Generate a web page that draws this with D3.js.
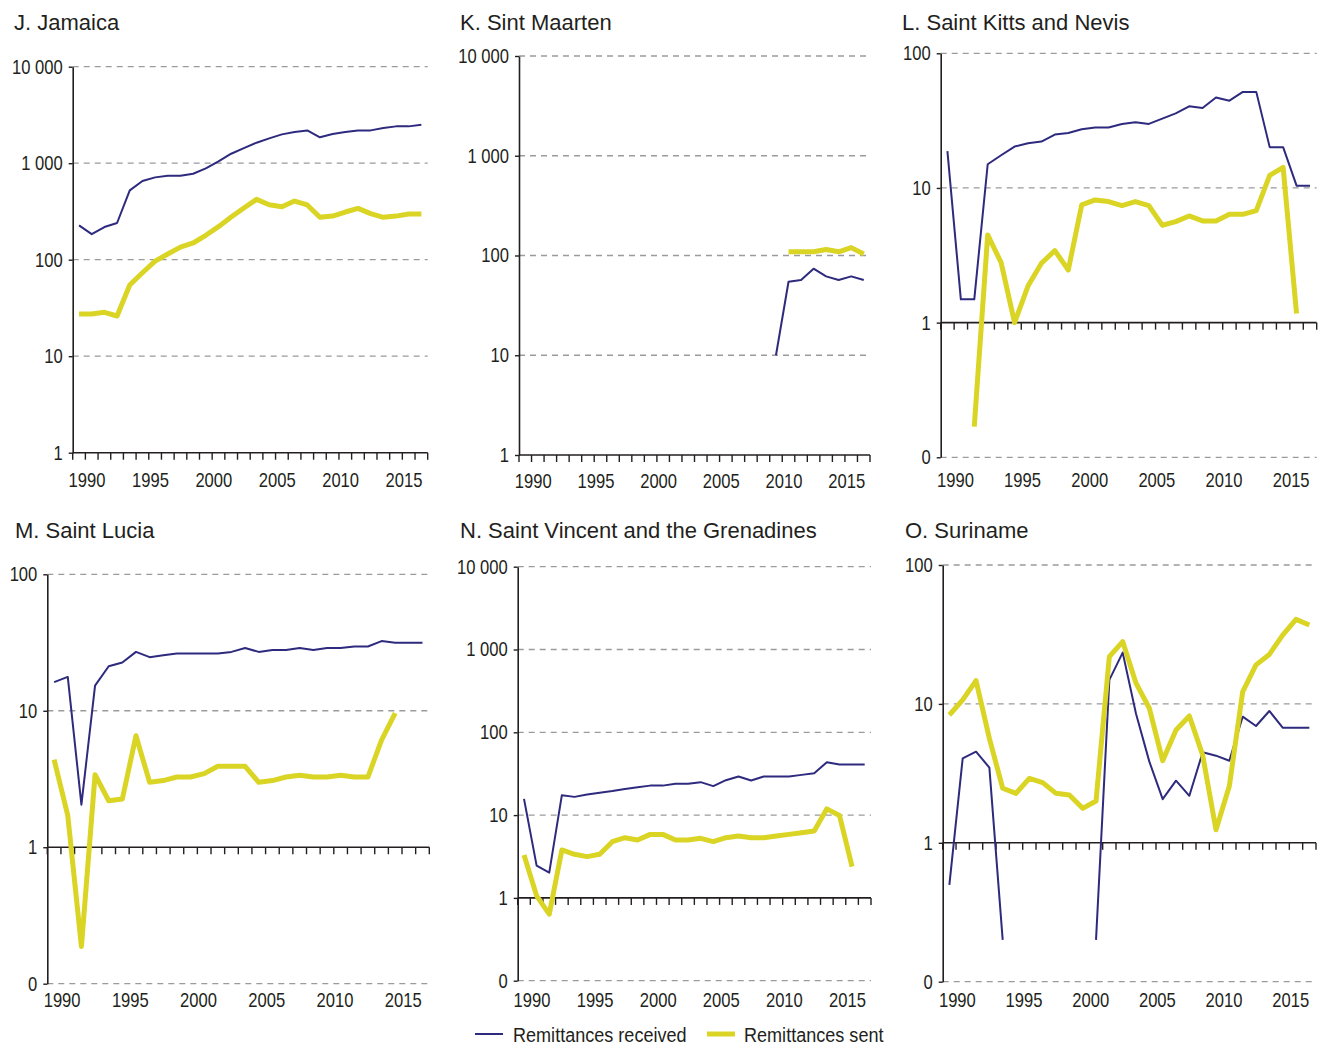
<!DOCTYPE html>
<html>
<head>
<meta charset="utf-8">
<script src="https://cdn.jsdelivr.net/npm/d3@7"></script>
<style>
  html, body { margin: 0; padding: 0; background: #fff; }
  svg { display: block; }
  text { font-family: "Liberation Sans", Arial, sans-serif; fill: #231f20; }
</style>
</head>
<body>
<svg id="chart" width="1320" height="1048"></svg>
<script>
// ---------- DATA ----------
const years = [1990,1991,1992,1993,1994,1995,1996,1997,1998,1999,2000,2001,2002,2003,2004,2005,2006,2007,2008,2009,2010,2011,2012,2013,2014,2015,2016,2017];
const yearLabels = [1990,1995,2000,2005,2010,2015];
const panelTitles = ["J. Jamaica","K. Sint Maarten","L. Saint Kitts and Nevis","M. Saint Lucia","N. Saint Vincent and the Grenadines","O. Suriname"];
const seriesNames = ["Remittances received","Remittances sent"];

const jamaicaReceived = [227,184,218,240,523,653,713,742,742,778,884,1044,1254,1435,1631,1808,1990,2104,2188,1854,2003,2104,2188,2188,2312,2408,2408,2506];
const jamaicaSent = [27.4,27.4,28.5,26.1,54.6,73.3,96.8,114.5,135,149,179,220,277,343,422,371,354,405,369,275,283,312,340,300,275,283,297,297];

const sintMaartenReceived = [null,null,null,null,null,null,null,null,null,null,null,null,null,null,null,null,null,null,null,null,10,54.6,56.8,73.8,61.8,56.8,61.8,56.8];
const sintMaartenSent = [null,null,null,null,null,null,null,null,null,null,null,null,null,null,null,null,null,null,null,null,null,109,109,109,115,109,120,103.5];

const kittsReceived = [18.8,1.49,1.49,15.0,17.5,20.3,21.5,22.1,24.9,25.6,27.3,28.1,28.1,29.9,30.8,29.9,32.7,35.8,40.4,39.2,46.9,44.5,51.7,51.7,20.1,20.1,10.4,10.4];
const kittsSent = [null,null,0.169,4.48,2.79,1.0,1.87,2.76,3.43,2.46,7.48,8.15,7.92,7.4,7.92,7.4,5.29,5.62,6.2,5.69,5.69,6.37,6.37,6.79,12.4,14.2,1.17,null];

const luciaReceived = [16.2,17.7,2.05,15.3,21.2,22.6,27.0,24.7,25.5,26.3,26.3,26.3,26.3,27.0,28.8,27.0,27.9,27.9,28.8,27.9,28.8,28.8,29.6,29.6,32.4,31.5,31.5,31.5];
const luciaSent = [4.38,1.71,0.187,3.40,2.19,2.26,6.56,2.99,3.08,3.27,3.27,3.46,3.92,3.92,3.92,2.99,3.08,3.27,3.37,3.27,3.27,3.37,3.27,3.27,6.1,9.6,null,null];

const vincentReceived = [15.7,2.45,2.02,17.4,16.6,17.7,18.6,19.5,20.7,21.7,22.7,22.7,23.9,23.9,25.0,22.4,26.4,29.3,26.2,29.3,29.3,29.3,30.6,32.1,43.5,40.8,40.8,40.8];
const vincentSent = [3.30,1.06,0.636,3.79,3.36,3.15,3.36,4.78,5.33,5.0,5.85,5.85,5.0,5.0,5.24,4.78,5.33,5.58,5.33,5.33,5.58,5.85,6.12,6.41,11.9,9.9,2.39,null];

const surinameReceived = [0.497,4.06,4.53,3.48,0.20,null,null,null,null,null,null,0.20,14.9,23.4,8.5,3.84,2.06,2.80,2.18,4.48,4.24,3.90,8.09,6.93,8.89,6.74,6.74,6.74];
const surinameSent = [8.32,10.7,14.7,5.65,2.47,2.27,2.91,2.71,2.27,2.21,1.77,2.0,21.9,28.1,14.1,9.3,3.90,6.49,8.18,4.28,1.24,2.56,12.2,19.1,22.7,31.3,40.6,37.0];

const yTicksJ = [1,10,100,1000,10000];
const yTicksK = [1,10,100,1000,10000];
const yTicksL = [0.1,1,10,100];
const yTicksM = [0.1,1,10,100];
const yTicksN = [0.1,1,10,100,1000,10000];
const yTicksO = [0.1,1,10,100];

// ---------- LAYOUT ----------
const panels = [
  {title: panelTitles[0], rec: jamaicaReceived, sent: jamaicaSent, ticks: yTicksJ, left:72.7, right:427.7, top:66.7, bottom:452.7, titleX:14, titleY:30, yearY:487},
  {title: panelTitles[1], rec: sintMaartenReceived, sent: sintMaartenSent, ticks: yTicksK, left:519, right:870, top:56, bottom:455, titleX:460, titleY:30, yearY:488},
  {title: panelTitles[2], rec: kittsReceived, sent: kittsSent, ticks: yTicksL, left:940.7, right:1316.7, top:53.3, bottom:457.3, titleX:902, titleY:30, yearY:487},
  {title: panelTitles[3], rec: luciaReceived, sent: luciaSent, ticks: yTicksM, left:47.3, right:429.3, top:574.3, bottom:983.7, titleX:15, titleY:538, yearY:1007},
  {title: panelTitles[4], rec: vincentReceived, sent: vincentSent, ticks: yTicksN, left:517.7, right:871, top:566.7, bottom:980.7, titleX:460, titleY:538, yearY:1007},
  {title: panelTitles[5], rec: surinameReceived, sent: surinameSent, ticks: yTicksO, left:942.7, right:1316, top:565, bottom:981.7, titleX:905, titleY:538, yearY:1007}
];

const NAVY = "#2e2a7e";
const YELLOW = "#dad425";
const GRID = "#9b9b9b";
const AXIS = "#231f20";
const SX = 0.83;          // horizontal condensing of the numeric labels

const svg = d3.select("#chart");

const fmtY = v => v < 1 ? "0" : d3.format(",")(v).replace(/,/g, " ");

panels.forEach(p => {
  const g = svg.append("g");
  const x = d3.scaleBand().domain(years).range([p.left, p.right]).paddingInner(0).paddingOuter(0);
  const bw = x.bandwidth();
  const y = d3.scaleLog().domain([p.ticks[0], p.ticks[p.ticks.length - 1]]).range([p.bottom, p.top]);

  // title
  g.append("text").attr("x", p.titleX).attr("y", p.titleY)
    .attr("font-size", 22).text(p.title);

  // gridlines (dashed) except at value 1, where the x axis sits
  g.selectAll("line.grid").data(p.ticks.filter(t => t !== 1)).enter().append("line")
    .attr("x1", p.left).attr("x2", p.right)
    .attr("y1", d => y(d)).attr("y2", d => y(d))
    .attr("stroke", GRID).attr("stroke-width", 1.3).attr("stroke-dasharray", "6,5");

  // y axis
  const yAxis = d3.axisLeft(y).tickValues(p.ticks).tickFormat(fmtY).tickSize(4).tickSizeOuter(0).tickPadding(6);
  const ya = g.append("g").attr("transform", `translate(${p.left},0)`).call(yAxis);
  ya.select(".domain").attr("stroke", AXIS).attr("stroke-width", 1.6);
  ya.selectAll(".tick line").attr("stroke", AXIS).attr("stroke-width", 1.4);
  ya.selectAll(".tick text").attr("font-size", 20).attr("fill", AXIS)
    .style("font-family", '"Liberation Sans", Arial, sans-serif')
    .attr("x", -10 / SX).attr("transform", `scale(${SX},1)`);

  // x axis at value 1 with ticks at band boundaries
  const y1 = y(1);
  g.append("line").attr("x1", p.left).attr("x2", p.right).attr("y1", y1).attr("y2", y1)
    .attr("stroke", AXIS).attr("stroke-width", 1.6);
  const bounds = years.map(yr => x(yr)).concat([x(years[years.length - 1]) + bw]);
  g.selectAll("line.xt").data(bounds).enter().append("line")
    .attr("x1", d => d).attr("x2", d => d).attr("y1", y1).attr("y2", y1 + 7)
    .attr("stroke", AXIS).attr("stroke-width", 1.4);

  // year labels
  g.selectAll("text.yr").data(yearLabels).enter().append("text")
    .attr("transform", d => `translate(${x(d) + bw / 2 + 8},${p.yearY}) scale(${SX},1)`)
    .attr("text-anchor", "middle").attr("font-size", 20).text(d => d);

  // lines
  const line = d3.line().defined(d => d.v != null).x(d => x(d.year) + bw / 2).y(d => y(d.v));
  const recData = years.map((yr, i) => ({year: yr, v: p.rec[i]}));
  const sentData = years.map((yr, i) => ({year: yr, v: p.sent[i]}));
  g.append("path").datum(recData).attr("d", line).attr("fill", "none")
    .attr("stroke", NAVY).attr("stroke-width", 2).attr("stroke-linejoin", "round");
  g.append("path").datum(sentData).attr("d", line).attr("fill", "none")
    .attr("stroke", YELLOW).attr("stroke-width", 5).attr("stroke-linejoin", "round");
});

// legend
const lg = svg.append("g");
lg.append("line").attr("x1", 475).attr("x2", 503).attr("y1", 1034).attr("y2", 1034)
  .attr("stroke", NAVY).attr("stroke-width", 2);
lg.append("text").attr("transform", `translate(513,1042) scale(0.86,1)`).attr("font-size", 21).text(seriesNames[0]);
lg.append("line").attr("x1", 707).attr("x2", 735).attr("y1", 1034).attr("y2", 1034)
  .attr("stroke", YELLOW).attr("stroke-width", 5);
lg.append("text").attr("transform", `translate(744,1042) scale(0.86,1)`).attr("font-size", 21).text(seriesNames[1]);
</script>
</body>
</html>
